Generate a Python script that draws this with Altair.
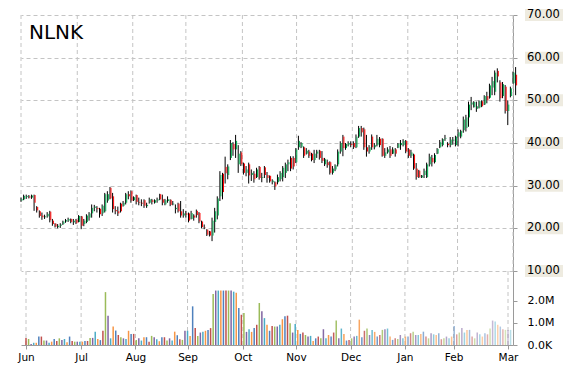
import altair as alt
import pandas as pd

# ---------------- data (one value per trading day, Jun 2 2014 .. Mar 3 2015) ----------------
open_ = [
    26.5, 26.8, 27.3, 27.5, 27.2, 27.8, 25.0, 24.0, 23.0, 22.6, 22.8, 23.9, 21.8, 21.1, 20.3, 20.6, 21.0, 21.6, 21.8, 22.2, 21.4,
    22.0, 21.5, 22.8, 21.0, 21.5, 22.5, 23.5, 24.8, 24.8, 24.6, 23.5, 24.0, 26.5, 29.5, 27.5, 24.3, 24.0, 25.8, 25.3, 26.0, 28.0, 28.7,
    26.6, 27.8, 26.2, 26.0, 26.6, 25.2, 26.0, 26.6, 26.0, 26.5, 28.0, 26.8, 25.6, 26.4, 26.7, 25.6, 24.5, 25.8, 24.0, 23.0, 23.5,
    23.5, 22.2, 23.0, 24.1, 23.6, 21.6, 20.3, 19.7, 19.3, 18.3, 21.5, 23.0, 27.5, 32.8, 34.4, 32.5, 36.5, 39.8, 38.5, 35.0, 37.8,
    35.2, 33.0, 35.0, 32.5, 32.8, 32.0, 34.4, 31.8, 34.3, 32.5, 32.3, 30.8, 30.8, 30.8, 31.5, 32.0, 33.0, 35.0, 36.5, 36.5, 35.5, 39.0, 39.0,
    39.0, 37.5, 38.0, 37.5, 36.0, 37.5, 38.2, 36.5, 35.0, 35.5, 35.5, 33.0, 33.8, 35.0, 38.0, 41.5, 38.8, 39.6, 39.8,
    40.0, 39.0, 41.5, 43.5, 43.2, 39.0, 38.0, 41.5, 39.0, 39.5, 41.0, 41.0, 37.0, 37.8, 38.5, 37.5, 38.5, 38.9, 39.5, 39.5, 40.5, 38.5,
    37.0, 37.3, 34.0, 33.5, 31.9, 32.5, 32.0, 35.0, 36.5, 35.5, 37.5, 39.0, 39.5, 41.0, 39.8, 39.5, 40.5, 39.5, 41.5, 41.5,
    43.0, 43.5, 46.0, 49.0, 48.4, 48.0, 48.3, 49.8, 49.0, 51.0, 50.6, 53.0, 52.0, 56.9, 54.2, 51.0, 53.2, 47.5, 51.0,
    54.0, 56.0,
]
high = [
    27.2, 27.9, 27.9, 27.8, 27.9, 27.9, 25.2, 24.2, 23.7, 23.2, 23.8, 24.1, 22.2, 21.2, 21.0, 21.2, 21.8, 22.2, 22.5, 22.3, 22.2,
    22.2, 23.1, 22.9, 22.2, 23.3, 23.8, 25.6, 25.5, 25.2, 24.8, 25.6, 28.3, 28.7, 29.7, 28.3, 25.2, 25.1, 26.0, 26.4, 28.3, 28.7, 28.9,
    27.5, 27.9, 27.2, 26.8, 26.8, 26.0, 27.2, 26.9, 26.8, 27.2, 28.1, 27.9, 26.9, 27.5, 26.8, 26.4, 25.6, 26.0, 26.4, 24.5, 24.1,
    23.7, 24.1, 23.3, 24.4, 23.8, 21.8, 20.9, 19.8, 19.4, 22.5, 24.8, 27.5, 33.4, 33.0, 36.8, 35.0, 40.7, 40.2, 41.9, 39.5, 38.1,
    35.4, 34.6, 35.4, 33.8, 33.4, 34.2, 34.6, 33.0, 34.6, 33.2, 32.4, 31.5, 31.0, 32.6, 33.4, 34.6, 35.4, 36.1, 36.9, 36.9, 38.8, 41.7, 40.2,
    39.2, 38.8, 38.4, 37.7, 38.4, 38.4, 38.4, 38.1, 36.5, 36.1, 35.7, 34.6, 35.0, 38.5, 40.4, 41.9, 40.0, 40.4, 40.4,
    40.4, 42.0, 44.0, 44.0, 43.6, 41.9, 39.5, 42.0, 40.0, 41.9, 41.4, 41.1, 38.8, 39.0, 39.3, 39.0, 38.8, 40.0, 40.7, 40.9, 40.7, 38.8,
    38.4, 37.5, 35.3, 33.7, 32.5, 34.0, 35.4, 37.5, 37.2, 37.6, 38.8, 40.7, 41.1, 41.9, 40.2, 41.4, 41.4, 41.7, 43.2, 43.1,
    46.2, 46.6, 49.7, 50.8, 49.8, 49.7, 50.0, 50.0, 51.2, 52.0, 53.9, 55.5, 57.0, 57.5, 54.7, 54.3, 53.6, 50.0, 53.2,
    56.7, 57.8,
]
low = [
    26.2, 26.6, 26.9, 27.0, 26.9, 24.1, 23.7, 22.5, 22.0, 22.2, 22.5, 21.4, 20.6, 20.2, 20.0, 20.1, 20.8, 21.3, 21.5, 21.2, 20.8,
    21.0, 21.4, 19.8, 20.5, 21.2, 21.8, 22.5, 24.0, 23.7, 22.5, 22.9, 23.7, 26.0, 26.8, 23.7, 23.3, 22.9, 23.7, 25.1, 25.6, 26.8, 26.0,
    26.4, 25.6, 25.4, 25.2, 24.8, 24.8, 25.8, 25.6, 25.8, 26.0, 26.6, 25.4, 25.4, 26.0, 25.2, 25.4, 23.5, 23.7, 22.5, 22.5, 22.5,
    21.4, 22.1, 21.8, 22.5, 21.2, 20.0, 19.8, 18.2, 18.1, 17.0, 19.0, 22.1, 26.4, 26.8, 30.5, 31.5, 36.0, 37.0, 36.5, 33.0, 34.6,
    32.6, 32.2, 30.5, 31.1, 30.7, 31.8, 31.4, 30.8, 31.8, 30.7, 30.7, 30.3, 29.0, 30.3, 31.0, 31.0, 31.8, 33.4, 33.4, 33.8, 35.3, 38.4, 38.8,
    36.5, 37.3, 36.5, 35.7, 35.3, 36.5, 36.1, 35.3, 34.6, 34.2, 32.6, 32.6, 33.4, 34.5, 37.5, 36.9, 38.4, 39.2, 39.0,
    38.6, 38.8, 41.2, 41.5, 38.4, 36.8, 37.5, 38.4, 38.5, 39.2, 39.0, 36.8, 36.5, 37.5, 36.5, 37.4, 36.8, 38.8, 38.4, 39.2, 37.6, 36.5,
    36.5, 33.7, 31.4, 31.8, 31.8, 31.8, 31.8, 34.5, 34.5, 35.2, 37.4, 38.8, 39.2, 40.5, 39.0, 39.0, 39.6, 39.2, 39.2, 41.1,
    42.4, 42.7, 43.8, 47.7, 48.3, 47.3, 48.1, 48.4, 48.9, 49.3, 50.4, 51.2, 51.2, 54.2, 49.7, 50.5, 46.9, 44.2, 50.7,
    53.9, 51.2,
]
close = [
    26.9, 27.6, 27.6, 27.2, 27.7, 26.0, 24.2, 22.9, 22.6, 22.8, 23.4, 21.9, 21.0, 20.4, 20.6, 20.9, 21.6, 21.9, 22.2, 21.5, 21.8,
    21.2, 22.9, 20.6, 21.8, 23.0, 23.5, 24.8, 25.1, 24.5, 23.3, 25.3, 28.0, 28.0, 27.0, 24.5, 24.0, 23.5, 24.0, 26.0, 28.0, 27.5, 26.5,
    27.3, 26.2, 26.0, 25.8, 25.3, 25.5, 26.8, 26.2, 26.6, 26.8, 26.8, 26.0, 26.6, 26.8, 25.5, 25.8, 24.8, 24.0, 23.0, 23.5, 23.2,
    21.8, 23.6, 22.5, 23.1, 21.6, 20.3, 20.2, 18.5, 18.3, 21.8, 24.0, 27.0, 32.5, 28.5, 32.9, 34.5, 40.0, 38.5, 40.5, 37.5, 35.0,
    33.0, 33.8, 32.4, 33.0, 31.5, 33.8, 31.8, 32.0, 32.5, 31.8, 31.0, 31.2, 29.8, 32.0, 33.0, 34.2, 35.0, 35.5, 34.0, 34.5, 38.5, 40.5, 40.0,
    37.0, 38.2, 37.0, 36.0, 37.5, 38.0, 36.5, 35.8, 36.2, 34.8, 33.0, 34.0, 34.8, 38.0, 40.0, 38.8, 39.8, 40.0, 39.5,
    39.0, 41.5, 43.5, 42.5, 39.0, 38.0, 39.0, 39.0, 39.5, 41.0, 39.5, 37.0, 37.8, 38.5, 37.0, 38.5, 37.5, 39.8, 40.0, 40.5, 38.0, 37.0,
    37.8, 34.0, 32.0, 32.0, 32.4, 33.5, 35.0, 36.8, 35.5, 37.2, 38.6, 40.2, 40.9, 41.2, 39.5, 40.8, 40.8, 41.5, 42.5, 42.8,
    45.5, 46.0, 49.0, 49.5, 49.6, 48.6, 49.8, 48.6, 51.0, 50.0, 53.5, 54.5, 56.5, 55.6, 50.5, 53.8, 47.5, 49.0, 52.8,
    56.5, 53.5,
]
volume_m = [
    0.32, 0.27, 0.05, 0.10, 0.10, 0.38, 0.38, 0.20, 0.20, 0.10, 0.15, 0.27, 0.18, 0.30, 0.22, 0.27, 0.12, 0.38, 0.18, 0.15, 0.15,
    0.15, 0.15, 0.18, 0.18, 0.32, 0.32, 0.60, 0.27, 0.22, 0.64, 2.38, 1.32, 0.30, 0.83, 0.65, 0.45, 0.35, 0.30, 0.27, 0.64, 0.50, 0.50,
    0.22, 0.30, 0.20, 0.35, 0.35, 0.15, 0.41, 0.35, 0.26, 0.17, 0.35, 0.35, 0.20, 0.30, 0.20, 0.60, 0.44, 0.26, 0.23, 0.64, 0.64,
    0.41, 1.74, 0.77, 0.41, 0.56, 0.60, 0.64, 0.68, 0.76, 2.30, 2.45, 2.45, 2.45, 2.45, 2.45, 2.45, 2.45, 2.40, 2.35, 1.67, 1.36,
    1.44, 0.59, 0.71, 0.59, 0.76, 0.91, 1.89, 1.52, 1.21, 0.91, 0.64, 0.86, 0.83, 0.83, 0.91, 1.16, 1.29, 1.32, 0.98, 0.56, 0.95, 0.68, 0.50,
    0.56, 0.45, 0.38, 0.41, 0.18, 0.30, 0.38, 0.30, 0.71, 0.30, 0.45, 0.38, 0.56, 1.10, 0.30, 0.74, 0.50, 0.20, 0.23,
    0.30, 0.38, 0.41, 1.14, 0.35, 0.64, 0.74, 0.45, 0.68, 0.59, 0.38, 0.45, 0.68, 0.71, 0.74, 0.38, 0.23, 0.30, 0.27, 0.45, 0.30, 0.38,
    0.38, 0.53, 0.60, 0.45, 0.45, 0.50, 0.60, 0.38, 0.30, 0.53, 0.48, 0.45, 0.53, 0.26, 0.30, 0.38, 0.30, 0.38, 0.86, 0.48,
    0.56, 0.77, 0.56, 0.68, 0.68, 0.38, 0.30, 0.56, 0.48, 0.38, 0.53, 0.48, 0.74, 1.10, 1.06, 0.91, 0.83, 0.71, 0.68,
    0.68, 0.68,
]
month_ticks = [0, 21.5, 42.7, 63, 84.6, 105.3, 126.6, 147.8, 166.8, 188]
month_names = ["Jun", "Jul", "Aug", "Sep", "Oct", "Nov", "Dec", "Jan", "Feb", "Mar"]
price_ticks = [10, 20, 30, 40, 50, 60, 70]
volume_ticks = [0, 1000000, 2000000]
symbol = "NLNK"

# ---------------- style ----------------
FONT = "DejaVu Sans"
W, H_TOP, H_BOT = 492, 256, 74
GRID = "#c4c4c4"
AXIS = "#9a9a9a"
vol_palette = ["#c0504d", "#9bbb59", "#8064a2", "#4bacc6", "#f79646", "#4f81bd"]

n = len(close)
df = pd.DataFrame({
    "i": list(range(n)), "open": open_, "high": high, "low": low, "close": close,
    "vol": [v * 1e6 for v in volume_m],
})
df["dir"] = ["up" if c >= o else "down" for o, c in zip(open_, close)]
df["vcol"] = [vol_palette[k % len(vol_palette)] for k in range(n)]
fade_start = 110
df["vop"] = [1.0 if k < fade_start else 1.0 - 0.6 * (k - fade_start) / (n - 1 - fade_start) for k in range(n)]

xscale = alt.Scale(domain=[0, 188], nice=False, zero=False)
pscale = alt.Scale(domain=[10, 70], nice=False, zero=False)
vscale = alt.Scale(domain=[0, 3330000], nice=False, zero=False)

months_df = pd.DataFrame({"t": month_ticks, "name": month_names})
label_expr = ("[" + ",".join(f"'{m}'" for m in month_names) + "][indexof(["
              + ",".join(str(t) for t in month_ticks) + "], datum.value)]")
x_axis_bottom = alt.Axis(
    values=month_ticks, labelExpr=label_expr, title=None, grid=False,
    tickSize=4, tickColor=AXIS, domainColor=AXIS, labelPadding=3,
    labelFlush=False, labelOverlap=False, labelFont=FONT, labelFontSize=10.5, labelColor="black")

grid_top = alt.Chart(months_df).mark_rule(color=GRID, strokeDash=[4, 3], strokeWidth=1).encode(
    x=alt.X("t:Q", scale=xscale, axis=None)
)
grid_bot = alt.Chart(months_df).mark_rule(color=GRID, strokeDash=[4, 3], strokeWidth=1).encode(
    x=alt.X("t:Q", scale=xscale, axis=x_axis_bottom)
)

base = alt.Chart(df)
wick = base.mark_rule(color="black", strokeWidth=1).encode(
    x=alt.X("i:Q", scale=xscale, axis=None),
    y=alt.Y("low:Q", scale=pscale, axis=alt.Axis(
        orient="right", values=price_ticks, labels=False, title=None,
        grid=True, gridDash=[4, 3], gridColor=GRID, ticks=True, tickSize=4,
        tickColor=AXIS, domainColor=AXIS)),
    y2="high:Q",
)
body = base.mark_rule(strokeWidth=1, xOffset=1).encode(
    x=alt.X("i:Q", scale=xscale, axis=None),
    y=alt.Y("open:Q", scale=pscale),
    y2="close:Q",
    color=alt.Color("dir:N", scale=alt.Scale(domain=["up", "down"], range=["#00b050", "#ff0000"]), legend=None),
)

lab_df = pd.DataFrame({"p": price_ticks})
lab_df["txt"] = [f"{p:.2f}" for p in price_ticks]
lab_df["lo"] = lab_df["p"] - 1.4
lab_df["hi"] = lab_df["p"] + 1.4
lab_bg = alt.Chart(lab_df).mark_rect(color="#eeebe0").encode(
    x=alt.value(W + 12), x2=alt.value(W + 50),
    y=alt.Y("lo:Q", scale=pscale), y2="hi:Q",
)
lab_txt = alt.Chart(lab_df).mark_text(align="left", baseline="middle", font=FONT, fontSize=11.5, color="black").encode(
    x=alt.value(W + 14), y=alt.Y("p:Q", scale=pscale), text="txt:N"
)
title = alt.Chart(pd.DataFrame({"t": [symbol]})).mark_text(
    align="left", baseline="alphabetic", font=FONT, fontSize=20, color="black"
).encode(x=alt.value(8), y=alt.value(24), text="t:N")

top = alt.layer(grid_top, wick, body, lab_bg, lab_txt, title).properties(width=W, height=H_TOP)

vol_bars = alt.Chart(df).mark_bar(width=1.5).encode(
    x=alt.X("i:Q", scale=xscale, axis=x_axis_bottom),
    y=alt.Y("vol:Q", scale=vscale, axis=alt.Axis(
        orient="right", values=volume_ticks, title=None, grid=False,
        labelExpr="datum.value == 0 ? '0.0K' : format(datum.value / 1000000, '.1f') + 'M'",
        tickSize=4, tickColor=AXIS, domainColor=AXIS, labelPadding=10,
        labelFont=FONT, labelFontSize=11, labelColor="black")),
    color=alt.Color("vcol:N", scale=None),
    opacity=alt.Opacity("vop:Q", scale=None),
)
bottom = alt.layer(grid_bot, vol_bars).properties(width=W, height=H_BOT)

chart = alt.vconcat(top, bottom, spacing=0, bounds="flush").properties(
    padding={"left": 17, "top": 9, "right": 0, "bottom": 0}
).configure_view(stroke=None)

chart.save("out.html", embed_options={"renderer": "svg", "actions": False})
